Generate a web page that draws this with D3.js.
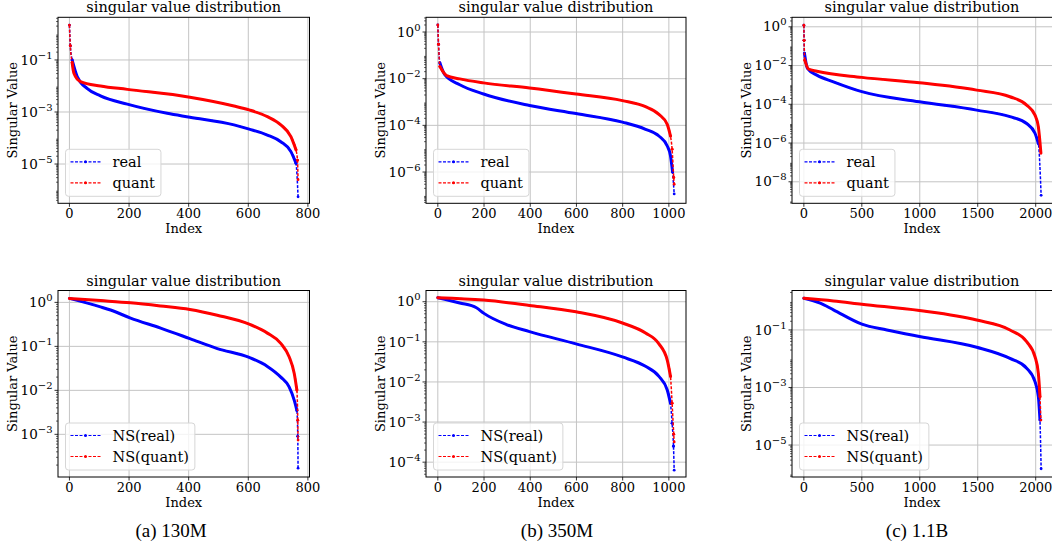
<!DOCTYPE html>
<html>
<head>
<meta charset="utf-8">
<script src="https://cdn.jsdelivr.net/npm/d3@7"></script>
<style>
  body { margin: 0; background: #fff; }
  svg text { font-family: "DejaVu Serif", serif; fill: #000; }
</style>
</head>
<body>
<svg id="fig" width="1052" height="544"></svg>
<script>
// singular values, [index, value]
const real130 = [[0,2.2],[3,0.35],[9,0.1],[26,0.023],[59,8.1e-3],[104,4.2e-3],[194,2.0e-3],[328,8.9e-4],[404,6.3e-4],[552,3.2e-4],[603,2.2e-4],[664,1.3e-4],[709,7.2e-5],[743,3.0e-5],[760,1.07e-5],[767,5.5e-7]];
const quant130 = [[0,2.2],[3,0.35],[9,0.08],[15,0.031],[37,0.0148],[104,0.01],[194,7.4e-3],[404,3.7e-3],[552,1.7e-3],[603,1.2e-3],[664,6.6e-4],[709,3.2e-4],[743,1.12e-4],[760,3.5e-5],[765,1.4e-5],[767,2.5e-6]];

const real350 = [[0,2.0],[3,0.3],[9,0.047],[30,0.0148],[95,5.5e-3],[198,2.2e-3],[397,7.1e-4],[598,3.2e-4],[799,1.38e-4],[899,6.8e-5],[957,3.5e-5],[993,1.3e-5],[1007,5e-6],[1016,1e-6],[1023,1.15e-7]];
const quant350 = [[0,2.0],[3,0.3],[9,0.033],[38,0.0135],[95,9.8e-3],[198,6.6e-3],[397,4.0e-3],[598,2.2e-3],[799,1.15e-3],[899,6.3e-4],[957,2.95e-4],[993,1.1e-4],[1007,3.5e-5],[1014,9.5e-6],[1021,5.9e-7],[1023,3e-7]];

const real11b = [[0,1.2],[2,0.2],[5,0.043],[31,7.1e-3],[112,3.2e-3],[255,1.45e-3],[500,4.5e-4],[997,1.35e-4],[1491,5.0e-5],[1778,2.3e-5],[1922,1.02e-5],[1994,3.2e-6],[2023,9.5e-7],[2047,2e-9]];
const quant11b = [[0,1.2],[2,0.2],[8,0.019],[40,6.6e-3],[112,5.1e-3],[500,2.45e-3],[997,1.29e-3],[1491,5.4e-4],[1778,2.45e-4],[1922,9.1e-5],[1994,2.75e-5],[2023,6.9e-6],[2045,3e-7]];

const nsReal130 = [[0,1.23],[104,0.79],[138,0.67],[205,0.44],[306,0.26],[404,0.15],[496,0.089],[603,0.056],[664,0.035],[709,0.020],[737,0.012],[754,6e-3],[763,3.5e-3],[766,9e-4],[767,1.7e-4]];
const nsQuant130 = [[0,1.23],[104,1.1],[205,0.98],[306,0.83],[404,0.69],[496,0.51],[603,0.32],[664,0.2],[709,0.117],[737,0.058],[754,0.0245],[763,0.0102],[766,2.1e-3],[767,7.4e-4]];

const nsReal350 = [[0,1.26],[95,0.93],[167,0.71],[198,0.52],[297,0.27],[397,0.18],[598,0.089],[799,0.042],[899,0.0245],[957,0.0138],[993,6.3e-3],[1007,2.95e-3],[1014,9.3e-4],[1020,2.5e-4],[1023,6.3e-5]];
const nsQuant350 = [[0,1.26],[198,1.1],[397,0.81],[598,0.56],[799,0.295],[899,0.166],[957,0.089],[993,0.035],[1007,0.0138],[1014,2.95e-3],[1021,5e-4],[1023,3.2e-4]];

const nsReal11b = [[0,1.26],[141,0.85],[255,0.5],[500,0.16],[716,0.1],[997,0.059],[1491,0.025],[1778,0.0102],[1922,4.7e-3],[1994,1.6e-3],[2023,4.8e-4],[2037,7.4e-5],[2047,1.5e-6]];
const nsQuant11b = [[0,1.26],[255,1.02],[500,0.78],[997,0.47],[1491,0.22],[1778,0.1],[1922,0.039],[1994,0.0117],[2023,3.1e-3],[2037,4.8e-4],[2045,7.4e-5]];

const xTicks130 = [0, 200, 400, 600, 800];
const xTicks350 = [0, 200, 400, 600, 800, 1000];
const xTicks11b = [0, 500, 1000, 1500, 2000];

const captions = ["(a) 130M", "(b) 350M", "(c) 1.1B"];
const topNames = ["real", "quant"];
const bottomNames = ["NS(real)", "NS(quant)"];

// y tick exponents and the visible log10 range of each panel
const panels = [
  {col: 0, row: 0, real: real130,  quant: quant130,  n: 768,  xt: xTicks130, exps: [-1, -3, -5],         lim: [-6.51, 0.64], names: topNames},
  {col: 1, row: 0, real: real350,  quant: quant350,  n: 1024, xt: xTicks350, exps: [0, -2, -4, -6],      lim: [-7.34, 0.63], names: topNames},
  {col: 2, row: 0, real: real11b,  quant: quant11b,  n: 2048, xt: xTicks11b, exps: [0, -2, -4, -6, -8],  lim: [-9.11, 0.49], names: topNames},
  {col: 0, row: 1, real: nsReal130, quant: nsQuant130, n: 768,  xt: xTicks130, exps: [0, -1, -2, -3],     lim: [-3.97, 0.27], names: bottomNames},
  {col: 1, row: 1, real: nsReal350, quant: nsQuant350, n: 1024, xt: xTicks350, exps: [0, -1, -2, -3, -4], lim: [-4.37, 0.28], names: bottomNames},
  {col: 2, row: 1, real: nsReal11b, quant: nsQuant11b, n: 2048, xt: xTicks11b, exps: [-1, -3, -5],        lim: [-6.11, 0.37], names: bottomNames}
];

const cols = [{l: 58, r: 309.5}, {l: 426, r: 686}, {l: 792, r: 1053}];
const rows = [{t: 17.3, b: 203.3}, {t: 290.5, b: 477}];
const captionX = [171, 557, 917];

const svg = d3.select("#fig");
const colors = ["#0000ff", "#ff0000"];
const gridColor = "#c4c4c4";

panels.forEach(function (p) {
  const c = cols[p.col], r = rows[p.row];
  const last = p.n - 1;
  const x = d3.scaleLinear().domain([-0.05 * last, 1.05 * last]).range([c.l, c.r]);
  const y = d3.scaleLog().domain([Math.pow(10, p.lim[0]), Math.pow(10, p.lim[1])]).range([r.b, r.t]);

  const g = svg.append("g");
  const clipId = "clip" + p.col + p.row;
  g.append("clipPath").attr("id", clipId).append("rect")
    .attr("x", c.l).attr("y", r.t).attr("width", c.r - c.l).attr("height", r.b - r.t);

  // grid
  g.selectAll(".gx").data(p.xt).enter().append("line")
    .attr("x1", d => x(d)).attr("x2", d => x(d)).attr("y1", r.t).attr("y2", r.b)
    .attr("stroke", gridColor).attr("stroke-width", 1);
  g.selectAll(".gy").data(p.exps).enter().append("line")
    .attr("x1", c.l).attr("x2", c.r).attr("y1", d => y(Math.pow(10, d))).attr("y2", d => y(Math.pow(10, d)))
    .attr("stroke", gridColor).attr("stroke-width", 1);

  // curves
  const line = d3.line().x(d => x(d[0])).y(d => y(d[1])).curve(d3.curveMonotoneX);
  const plot = g.append("g").attr("clip-path", "url(#" + clipId + ")");
  [p.real, p.quant].forEach(function (s, k) {
    // thin dashed line under everything, like the '.--' style
    plot.append("path").attr("d", line(s)).attr("fill", "none")
      .attr("stroke", colors[k]).attr("stroke-width", 1.5).attr("stroke-dasharray", "3,1.5");
    // where the markers are packed they read as a thick line
    let run = [s[0]];
    const runs = [];
    for (let i = 1; i < s.length; i++) {
      const a = s[i - 1], b = s[i];
      const dist = Math.hypot(x(b[0]) - x(a[0]), y(b[1]) - y(a[1])) / (b[0] - a[0]);
      if (dist < 1.9) {
        run.push(b);
      } else {
        if (run.length > 1) runs.push(run);
        run = [b];
        plot.append("circle").attr("cx", x(a[0])).attr("cy", y(a[1])).attr("r", 1.4).attr("fill", colors[k]);
        plot.append("circle").attr("cx", x(b[0])).attr("cy", y(b[1])).attr("r", 1.4).attr("fill", colors[k]);
      }
    }
    if (run.length > 1) runs.push(run);
    runs.forEach(function (rr) {
      plot.append("path").attr("d", line(rr)).attr("fill", "none")
        .attr("stroke", colors[k]).attr("stroke-width", 3).attr("stroke-linecap", "round");
    });
  });

  // frame
  g.append("rect").attr("x", c.l).attr("y", r.t).attr("width", c.r - c.l).attr("height", r.b - r.t)
    .attr("fill", "none").attr("stroke", "#000").attr("stroke-width", 1);

  // x ticks
  p.xt.forEach(function (t) {
    g.append("line").attr("x1", x(t)).attr("x2", x(t)).attr("y1", r.b).attr("y2", r.b + 3.5)
      .attr("stroke", "#000").attr("stroke-width", 0.8);
    g.append("text").attr("x", x(t)).attr("y", r.b + 14.5).attr("text-anchor", "middle")
      .style("font-size", "13px").text(t);
  });
  g.append("text").attr("x", (c.l + Math.min(c.r, 1052)) / 2).attr("y", r.b + 29.5)
    .attr("text-anchor", "middle").style("font-size", "13px").text("Index");

  // y minor ticks
  for (let e = Math.floor(p.lim[0]); e <= Math.ceil(p.lim[1]); e++) {
    for (let m = 2; m <= 9; m++) {
      const v = m * Math.pow(10, e);
      const lv = Math.log10(v);
      if (lv < p.lim[0] || lv > p.lim[1]) continue;
      g.append("line").attr("x1", c.l - 2).attr("x2", c.l).attr("y1", y(v)).attr("y2", y(v))
        .attr("stroke", "#000").attr("stroke-width", 0.6);
    }
  }
  // y major ticks with 10^k labels
  const yLabels = g.append("g");
  p.exps.forEach(function (e) {
    const yy = y(Math.pow(10, e));
    g.append("line").attr("x1", c.l - 3.5).attr("x2", c.l).attr("y1", yy).attr("y2", yy)
      .attr("stroke", "#000").attr("stroke-width", 0.8);
    const t = yLabels.append("text").attr("x", c.l - 5.5).attr("y", yy + 4.7)
      .attr("text-anchor", "end").style("font-size", "13.5px");
    t.append("tspan").text("10");
    t.append("tspan").attr("dy", -6).style("font-size", "10px")
      .text(e < 0 ? "\u2212" + (-e) : String(e));
  });
  const bb = yLabels.node().getBBox();
  const ly = (r.t + r.b) / 2;
  g.append("text").attr("transform", "translate(" + (bb.x - 4) + "," + ly + ") rotate(-90)")
    .attr("text-anchor", "middle").style("font-size", "13px").text("Singular Value");

  // title
  g.append("text").attr("x", (c.l + (p.col === 2 ? 1052 : c.r)) / 2).attr("y", r.t - 5)
    .attr("text-anchor", "middle").style("font-size", "14.5px").text("singular value distribution");

  // legend
  const lg = g.append("g");
  const lx = c.l + 7.5, lyTop = r.b - 54;
  const box = lg.append("rect").attr("x", lx).attr("y", lyTop).attr("height", 47)
    .attr("rx", 3).attr("fill", "#fff").attr("fill-opacity", 0.8)
    .attr("stroke", "#d6d6d6").attr("stroke-width", 1);
  let maxW = 0;
  p.names.forEach(function (nm, k) {
    const yy = lyTop + 12.5 + k * 21;
    lg.append("line").attr("x1", lx + 5).attr("x2", lx + 35).attr("y1", yy).attr("y2", yy)
      .attr("stroke", colors[k]).attr("stroke-width", 1.2).attr("stroke-dasharray", "3,1.5");
    lg.append("circle").attr("cx", lx + 20).attr("cy", yy).attr("r", 1.5).attr("fill", colors[k]);
    const tx = lg.append("text").attr("x", lx + 47).attr("y", yy + 5)
      .style("font-size", "14.5px").text(nm);
    maxW = Math.max(maxW, tx.node().getComputedTextLength());
  });
  box.attr("width", 47 + maxW + 6);
});

// sub-figure captions
captions.forEach(function (cap, i) {
  svg.append("text").attr("x", captionX[i]).attr("y", 537).attr("text-anchor", "middle")
    .style("font-family", "'Liberation Serif', 'Times New Roman', serif").style("font-size", "19px")
    .text(cap);
});
</script>
</body>
</html>
